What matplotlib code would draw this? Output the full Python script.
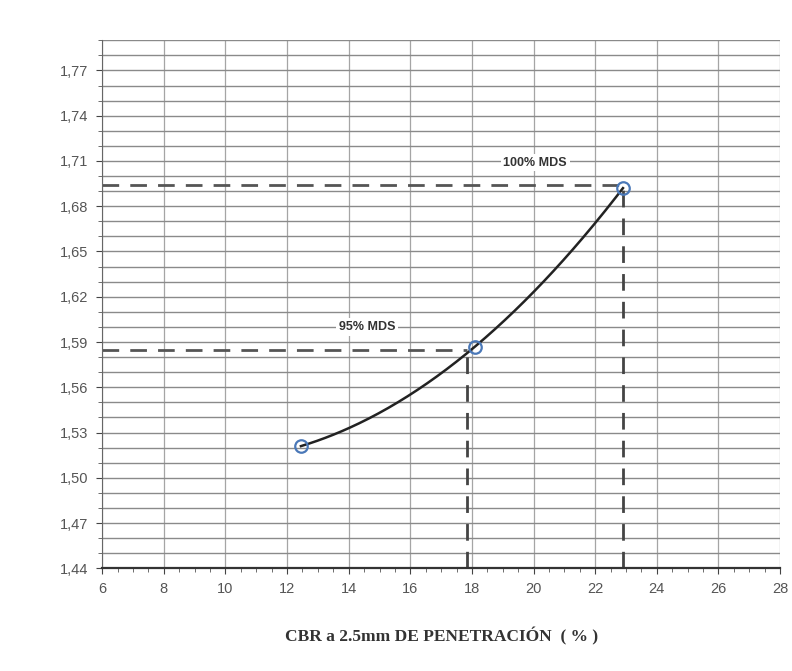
import matplotlib.pyplot as plt
import numpy as np
from matplotlib.ticker import MultipleLocator

# CBR (%) vs dry density
cbr = [12.45, 18.1, 22.9]
density = [1.521, 1.587, 1.692]

mds_labels = ["95% MDS", "100% MDS"]
mds_density = [1.585, 1.694]
mds_cbr = [17.85, 22.9]

x_ticks = list(range(6, 29, 2))
y_ticks = [1.44, 1.47, 1.50, 1.53, 1.56, 1.59, 1.62, 1.65, 1.68, 1.71, 1.74, 1.77]

fig = plt.figure(figsize=(7.92, 6.71), dpi=100)
ax = fig.add_axes([0.129, 0.153, 0.856, 0.787])

ax.set_xlim(6, 28)
ax.set_ylim(1.44, 1.79)
ax.set_xticks(x_ticks)
ax.set_yticks(y_ticks)
ax.set_yticklabels([f"{v:.2f}".replace(".", ",") for v in y_ticks])
ax.xaxis.set_minor_locator(MultipleLocator(0.5))
ax.yaxis.set_minor_locator(MultipleLocator(0.01))

ax.grid(True, which="major", axis="x", color="#a5a5a5", lw=0.9)
ax.grid(True, which="both", axis="y", color="#8a8a8a", lw=1.0)
ax.set_axisbelow(True)

for s in ["top", "right"]:
    ax.spines[s].set_visible(False)
ax.spines["left"].set_color("#666666")
ax.spines["bottom"].set_color("#333333")
ax.spines["bottom"].set_linewidth(1.6)

ax.tick_params(which="major", labelsize=10.5, colors="#444444", length=4, pad=6)
ax.tick_params(which="minor", length=3, color="#555555")
ax.tick_params(axis="x", labelcolor="#555555")
ax.tick_params(axis="y", labelcolor="#555555")

# quadratic trend line through the points
coef = np.polyfit(cbr, density, 2)
xs = np.linspace(cbr[0], cbr[-1], 200)
ax.plot(xs, np.polyval(coef, xs), color="#222222", lw=1.8, zorder=3)
ax.plot(cbr, density, "o", ms=9, mfc="none", mec="#4a78b8", mew=1.6, zorder=4)

# reference lines for 95% and 100% of MDS
for lab, yv, xv in zip(mds_labels, mds_density, mds_cbr):
    ax.plot([6, xv], [yv, yv], color="#555555", lw=2, dashes=(6, 4), zorder=2)
    ax.plot([xv, xv], [1.44, yv], color="#444444", lw=2, dashes=(6, 4), zorder=2)

ax.text(14.6, 1.596, mds_labels[0], fontsize=9, color="#333333",
        ha="center", va="bottom", family="Liberation Sans", fontweight="bold",
        bbox=dict(facecolor="white", edgecolor="none", pad=2))
ax.text(20.05, 1.705, mds_labels[1], fontsize=9, color="#333333",
        ha="center", va="bottom", family="Liberation Sans", fontweight="bold",
        bbox=dict(facecolor="white", edgecolor="none", pad=2))

for t in ax.get_xticklabels() + ax.get_yticklabels():
    t.set_family("Liberation Sans")

ax.set_xlabel("CBR a 2.5mm DE PENETRACIÓN  ( % )", family="Liberation Serif",
              fontweight="bold", fontsize=12.5, color="#333333", labelpad=22)

fig.savefig("out.png", dpi=100)
